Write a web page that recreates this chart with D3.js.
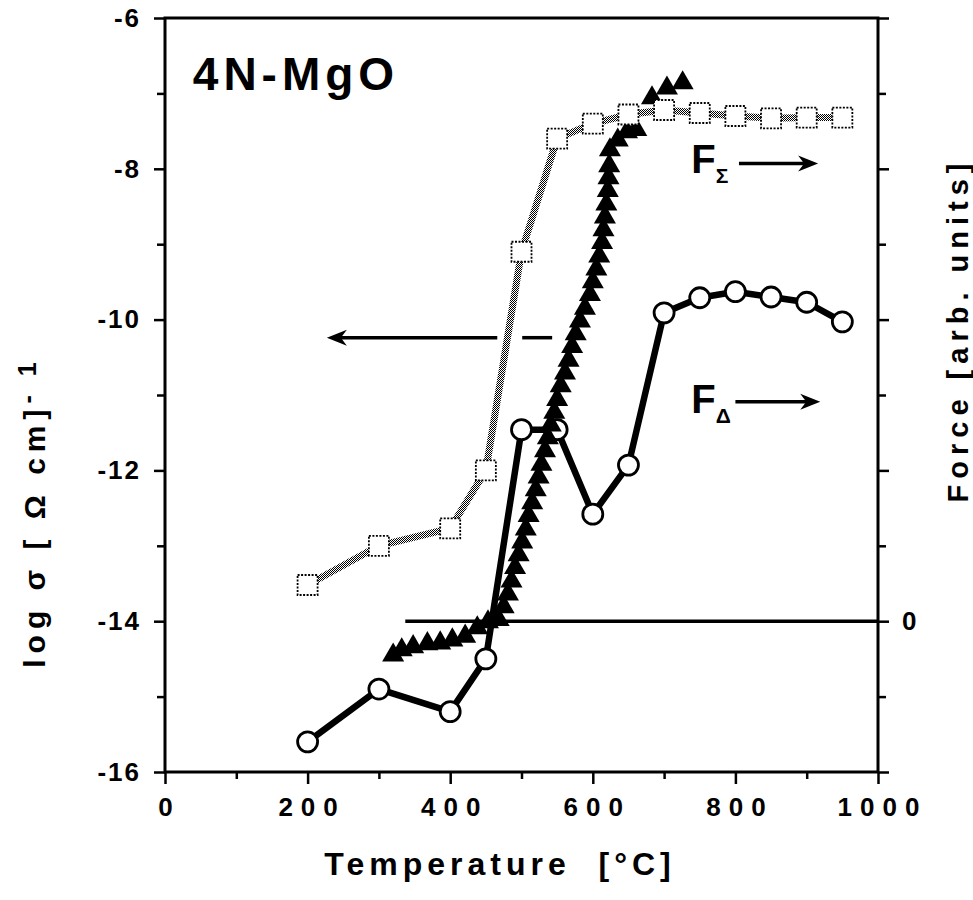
<!DOCTYPE html>
<html>
<head>
<meta charset="utf-8">
<script src="https://cdn.jsdelivr.net/npm/d3@7"></script>
<style>
  body { margin: 0; background: #fff; }
  svg { display: block; }
  text { font-family: "Liberation Sans", Arial, sans-serif; font-weight: bold; fill: #000; }
</style>
</head>
<body>
<div id="root"></div>
<script>
// conductivity, left axis (log sigma)
const sqTemp = [200, 300, 400, 450, 500, 550, 600, 650, 700, 750, 800, 850, 900, 950];
const sqLogSigma = [-13.52, -13.0, -12.77, -12.0, -9.1, -7.6, -7.4, -7.28, -7.22, -7.26, -7.3, -7.33, -7.32, -7.32];

// F_delta, right axis (arb. units, 0 at the zero line)
const circTemp = [200, 300, 400, 450, 500, 550, 600, 650, 700, 750, 800, 850, 900, 950];
const circForce = [-1.6, -0.9, -1.2, -0.5, 2.54, 2.54, 1.42, 2.07, 4.09, 4.29, 4.37, 4.3, 4.23, 3.97];

// F_sigma, right axis
const triTemp = [320, 332, 348, 368, 386, 403, 421, 438, 453,
  468, 475, 481, 486, 491, 496, 501, 506, 510, 515, 520, 524, 528, 533, 537, 541,
  546, 550, 555, 561, 566, 571, 576, 582, 589, 596, 600, 605, 609, 613, 615, 617,
  619, 621, 622, 623, 624, 635, 648, 661, 683, 704, 726];
const triForce = [-0.45, -0.38, -0.34, -0.3, -0.29, -0.25, -0.2, -0.09, -0.01,
  0.02, 0.19, 0.36, 0.53, 0.71, 0.88, 1.05, 1.22, 1.4, 1.57, 1.74, 1.91, 2.08, 2.26, 2.43, 2.6,
  2.77, 2.94, 3.12, 3.29, 3.46, 3.64, 3.81, 3.98, 4.15, 4.33, 4.5, 4.67, 4.84, 5.02, 5.19, 5.36,
  5.53, 5.71, 5.88, 6.04, 6.25, 6.38, 6.49, 6.52, 6.94, 7.07, 7.14];

const xTicks = d3.range(0, 1001, 100);
const xLabels = [0, 200, 400, 600, 800, 1000];
const yTicks = d3.range(-16, -5, 1);
const yLabels = [-16, -14, -12, -10, -8, -6];
const forceTicks = d3.range(-2, 9, 1);
const forceLabels = [0];

const width = 973, height = 900;
const pLeft = 165, pRight = 878, pTop = 18, pBottom = 772;

const svg = d3.select("#root").append("svg").attr("width", width).attr("height", height);

const x = d3.scaleLinear().domain([0, 1000]).range([pLeft, pRight]);
const y = d3.scaleLinear().domain([-16, -6]).range([pBottom, pTop]);
const yR = d3.scaleLinear().domain([-2, 8]).range([pBottom, pTop]);

// checker pattern for the grey line
const defs = svg.append("defs");
const pat = defs.append("pattern").attr("id", "chk")
  .attr("width", 2).attr("height", 2).attr("patternUnits", "userSpaceOnUse");
pat.append("rect").attr("width", 2).attr("height", 2).attr("fill", "#fff");
pat.append("rect").attr("width", 1).attr("height", 1).attr("fill", "#000");
pat.append("rect").attr("x", 1).attr("y", 1).attr("width", 1).attr("height", 1).attr("fill", "#000");

// axes
const xls = 8;
const gx = svg.append("g").attr("transform", "translate(0," + pBottom + ")")
  .call(d3.axisBottom(x).tickValues(xTicks).tickSize(12).tickPadding(14)
    .tickFormat(d => xLabels.includes(d) ? String(d) : ""));
gx.selectAll(".tick line").attr("y2", d => xLabels.includes(d) ? 12 : 7);

const gy = svg.append("g").attr("transform", "translate(" + pLeft + ",0)")
  .call(d3.axisLeft(y).tickValues(yTicks).tickSize(10).tickPadding(14)
    .tickFormat(d => yLabels.includes(d) ? String(d) : ""));
gy.selectAll(".tick line").attr("x2", d => yLabels.includes(d) ? -11 : -8);

const gr = svg.append("g").attr("transform", "translate(" + pRight + ",0)")
  .call(d3.axisRight(yR).tickValues(forceTicks).tickSize(10).tickPadding(14)
    .tickFormat(d => forceLabels.includes(d) ? String(d) : ""));
gr.selectAll(".tick line").attr("x2", d => d % 2 === 0 ? 11 : 8);

[gx, gy, gr].forEach(g => {
  g.select(".domain").remove();
  g.selectAll(".tick line").attr("stroke", "#000").attr("stroke-width", 2.5);
  g.selectAll("text").attr("font-size", 26).attr("fill", "#000")
    .style("font-family", "'Liberation Sans', Arial, sans-serif").style("font-weight", "bold");
});
gx.selectAll("text").style("letter-spacing", xls + "px").attr("dx", xls / 2);
gy.selectAll("text").style("letter-spacing", "2px");

svg.append("rect").attr("x", pLeft).attr("y", pTop)
  .attr("width", pRight - pLeft).attr("height", pBottom - pTop)
  .attr("fill", "none").attr("stroke", "#000").attr("stroke-width", 3);

// zero line of force axis
svg.append("line")
  .attr("x1", x(337)).attr("x2", x(1000))
  .attr("y1", yR(0)).attr("y2", yR(0))
  .attr("stroke", "#000").attr("stroke-width", 3.5);

// F_delta line + circles
const circData = circTemp.map((t, i) => [t, circForce[i]]);
svg.append("path").datum(circData)
  .attr("d", d3.line().x(d => x(d[0])).y(d => yR(d[1])))
  .attr("fill", "none").attr("stroke", "#000").attr("stroke-width", 6.5)
  .attr("stroke-linejoin", "round");
svg.append("g").selectAll("circle").data(circData).join("circle")
  .attr("cx", d => x(d[0])).attr("cy", d => yR(d[1])).attr("r", 10)
  .attr("fill", "#fff").attr("stroke", "#000").attr("stroke-width", 2.8);

// F_sigma triangles
const triData = triTemp.map((t, i) => [t, triForce[i]]);
svg.append("g").selectAll("path").data(triData).join("path")
  .attr("transform", d => "translate(" + x(d[0]) + "," + yR(d[1]) + ")")
  .attr("d", d3.symbol(d3.symbolTriangle, 210))
  .attr("fill", "#000");

// conductivity grey line + squares
const sqData = sqTemp.map((t, i) => [t, sqLogSigma[i]]);
svg.append("path").datum(sqData)
  .attr("d", d3.line().x(d => x(d[0])).y(d => y(d[1])))
  .attr("fill", "none").attr("stroke", "url(#chk)").attr("stroke-width", 7);
const sq = 20;
svg.append("g").selectAll("rect").data(sqData).join("rect")
  .attr("x", d => x(d[0]) - sq / 2).attr("y", d => y(d[1]) - sq / 2)
  .attr("width", sq).attr("height", sq)
  .attr("fill", "#fff").attr("stroke", "#000").attr("stroke-width", 1.8)
  .attr("stroke-dasharray", "2 1.5");

// arrows
function arrow(x1, y1, x2, y2) {
  const dir = Math.sign(x2 - x1), hl = 20, hw = 8;
  svg.append("line").attr("x1", x1).attr("y1", y1).attr("x2", x2 - dir * hl * 0.6).attr("y2", y2)
    .attr("stroke", "#000").attr("stroke-width", 3.5);
  svg.append("path")
    .attr("d", "M" + x2 + "," + y2 + "L" + (x2 - dir * hl) + "," + (y2 - hw) +
      "L" + (x2 - dir * hl * 0.7) + "," + y2 + "L" + (x2 - dir * hl) + "," + (y2 + hw) + "Z")
    .attr("fill", "#000");
}
arrow(x(466), y(-10.24), x(227), y(-10.24));
svg.append("line").attr("x1", x(501)).attr("x2", x(543))
  .attr("y1", y(-10.24)).attr("y2", y(-10.24)).attr("stroke", "#000").attr("stroke-width", 3.5);
arrow(x(805), yR(6.07), x(916), yR(6.07));
arrow(x(800), yR(2.91), x(919), yR(2.91));

// labels in plot
svg.append("text").attr("x", x(39)).attr("y", y(-6.95))
  .attr("font-size", 46).style("letter-spacing", "5px").text("4N-MgO");

const fs = svg.append("text").attr("x", x(738)).attr("y", yR(5.94)).attr("font-size", 40);
fs.append("tspan").text("F");
fs.append("tspan").attr("font-size", 21).attr("dy", 10).text("Σ");

const fd = svg.append("text").attr("x", x(738)).attr("y", yR(2.76)).attr("font-size", 40);
fd.append("tspan").text("F");
fd.append("tspan").attr("font-size", 21).attr("dy", 10).text("Δ");

// axis titles
svg.append("text").attr("x", 500).attr("y", 875).attr("text-anchor", "middle")
  .attr("font-size", 32).style("letter-spacing", "5px")
  .text("Temperature\u00a0\u00a0[°C]");

const yl = svg.append("text").attr("transform", "translate(45,512) rotate(-90)")
  .attr("text-anchor", "middle").attr("font-size", 30).style("letter-spacing", "6px");
yl.append("tspan").text("log σ [ Ω cm]");
yl.append("tspan").attr("font-size", 25).attr("dy", -9).text("- 1");

svg.append("text").attr("transform", "translate(968,330) rotate(-90)")
  .attr("text-anchor", "middle").attr("font-size", 29).style("letter-spacing", "6px")
  .text("Force\u00a0[arb.\u00a0units]");
</script>
</body>
</html>
